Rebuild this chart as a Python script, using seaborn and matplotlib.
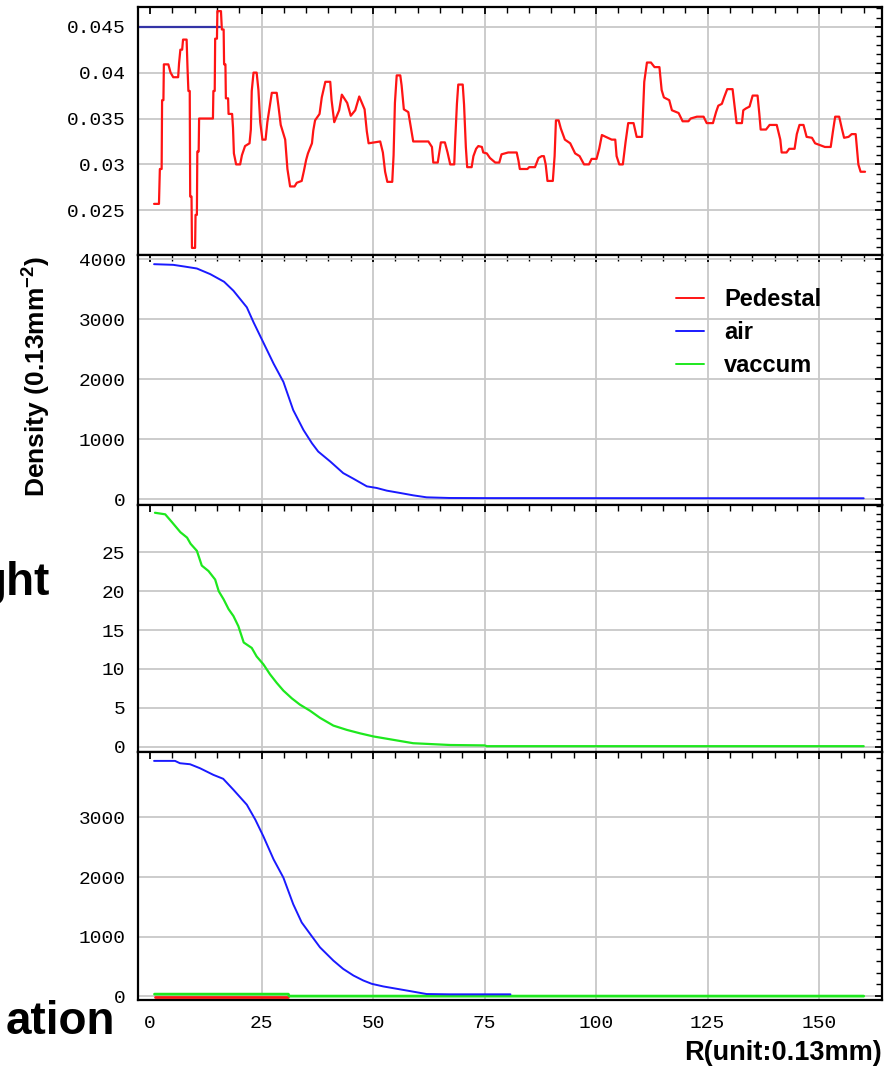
import numpy as np
import pandas as pd
import matplotlib
matplotlib.use("Agg")
import matplotlib.pyplot as plt
import seaborn as sns
from matplotlib.ticker import MultipleLocator, AutoMinorLocator
from matplotlib.lines import Line2D

sns.set_style("white")
plt.rcParams["font.family"] = ["Liberation Sans", "DejaVu Sans"]
plt.rcParams["text.color"] = "black"

# ---- data ----
# top panel: pedestal profile (red) and reference level (blue)
ped_x = [0.9, 2.0, 2.2, 2.6, 2.7, 3.0, 3.1, 4.1, 4.6, 5.2, 6.3, 6.5, 6.8, 7.2, 7.4, 8.2, 8.4, 8.6, 8.9, 9.0,
         9.3, 9.4, 10.1, 10.2, 10.5, 10.6, 10.9, 11.0, 14.1, 14.2, 14.5, 14.6, 15.0, 15.1, 15.9, 16.1, 16.5,
         16.6, 16.9, 17.0, 17.5, 17.6, 18.4, 18.6, 18.8, 19.3, 20.2, 20.6, 21.3, 22.3, 22.6, 22.8, 23.2, 23.9,
         24.3, 24.7, 25.2, 25.9, 26.3, 26.9, 27.3, 28.4, 28.8, 29.3, 30.3, 30.8, 31.4, 32.4, 32.9, 34.0, 34.5,
         35.0, 35.4, 36.3, 36.6, 37.0, 38.0, 38.5, 39.3, 40.4, 40.7, 41.3, 42.4, 43.0, 44.2, 45.0, 46.0, 46.9,
         48.1, 48.6, 49.0, 51.6, 52.2, 52.7, 53.2, 54.3, 54.6, 54.9, 55.3, 56.1, 56.4, 56.9, 57.9, 59.0, 62.4,
         63.2, 63.5, 64.5, 65.2, 66.1, 66.7, 67.3, 68.2, 68.4, 68.8, 69.1, 70.1, 70.4, 70.8, 71.1, 72.1, 72.5,
         73.1, 73.6, 74.4, 74.7, 75.5, 76.2, 77.4, 78.3, 78.8, 80.3, 82.2, 82.6, 82.9, 84.6, 85.0, 86.3, 87.1,
         87.8, 88.3, 88.7, 89.1, 90.3, 90.7, 91.0, 91.6, 92.1, 93.0, 94.2, 95.3, 96.3, 97.3, 98.4, 99.0, 100.1,
         100.7, 101.3, 102.2, 103.5, 104.3, 104.6, 105.2, 106.0, 106.3, 106.6, 107.2, 108.4, 109.1, 110.3,
         110.8, 111.4, 112.3, 113.1, 114.2, 114.7, 115.2, 116.4, 117.0, 118.5, 119.4, 120.7, 121.2, 122.6,
         124.1, 124.8, 126.2, 126.9, 127.4, 128.2, 128.7, 129.4, 130.6, 130.9, 131.5, 132.7, 133.0, 133.6,
         134.4, 135.1, 136.2, 136.6, 136.9, 138.1, 138.9, 140.5, 141.3, 141.6, 142.7, 143.3, 144.5, 145.0,
         145.6, 146.5, 147.2, 148.4, 149.1, 150.2, 151.3, 152.6, 153.1, 153.6, 154.5, 155.1, 155.6, 156.6,
         157.3, 158.2, 158.8, 159.3, 160.3]
ped_y = [0.0257, 0.0257, 0.0295, 0.0295, 0.0370, 0.0370, 0.0409, 0.0409, 0.0400, 0.0395, 0.0395, 0.0410,
         0.0425, 0.0425, 0.0436, 0.0436, 0.0405, 0.0380, 0.0380, 0.0265, 0.0265, 0.0209, 0.0209, 0.0245,
         0.0245, 0.0314, 0.0314, 0.0350, 0.0350, 0.0380, 0.0380, 0.0437, 0.0437, 0.0467, 0.0467, 0.0447,
         0.0447, 0.0409, 0.0409, 0.0372, 0.0372, 0.0355, 0.0355, 0.0340, 0.0312, 0.0300, 0.0300, 0.0310,
         0.0320, 0.0323, 0.0338, 0.0380, 0.0400, 0.0400, 0.0381, 0.0346, 0.0327, 0.0327, 0.0346, 0.0365,
         0.0378, 0.0378, 0.0363, 0.0343, 0.0327, 0.0295, 0.0276, 0.0276, 0.0280, 0.0282, 0.0293, 0.0305,
         0.0312, 0.0323, 0.0337, 0.0348, 0.0355, 0.0373, 0.0390, 0.0390, 0.0370, 0.0346, 0.0359, 0.0376,
         0.0367, 0.0353, 0.0359, 0.0374, 0.0360, 0.0336, 0.0323, 0.0325, 0.0313, 0.0292, 0.0281, 0.0281,
         0.0310, 0.0367, 0.0397, 0.0397, 0.0386, 0.0360, 0.0357, 0.0325, 0.0325, 0.0319, 0.0302, 0.0302,
         0.0324, 0.0324, 0.0313, 0.0300, 0.0300, 0.0325, 0.0366, 0.0387, 0.0387, 0.0365, 0.0319, 0.0297,
         0.0297, 0.0309, 0.0317, 0.0320, 0.0319, 0.0313, 0.0312, 0.0307, 0.0302, 0.0302, 0.0311, 0.0313,
         0.0313, 0.0304, 0.0295, 0.0295, 0.0297, 0.0297, 0.0307, 0.0309, 0.0309, 0.0300, 0.0282, 0.0282,
         0.0309, 0.0348, 0.0348, 0.0339, 0.0327, 0.0323, 0.0312, 0.0309, 0.0300, 0.0300, 0.0306, 0.0306,
         0.0317, 0.0332, 0.0330, 0.0327, 0.0327, 0.0309, 0.0300, 0.0300, 0.0312, 0.0324, 0.0345, 0.0345,
         0.0330, 0.0330, 0.0390, 0.0411, 0.0411, 0.0406, 0.0406, 0.0381, 0.0373, 0.0370, 0.0359, 0.0356,
         0.0347, 0.0347, 0.0350, 0.0352, 0.0352, 0.0345, 0.0345, 0.0357, 0.0364, 0.0366, 0.0373, 0.0382,
         0.0382, 0.0370, 0.0345, 0.0345, 0.0359, 0.0361, 0.0363, 0.0375, 0.0375, 0.0355, 0.0338, 0.0338,
         0.0343, 0.0343, 0.0327, 0.0313, 0.0313, 0.0317, 0.0317, 0.0333, 0.0343, 0.0343, 0.0330, 0.0329,
         0.0323, 0.0321, 0.0319, 0.0319, 0.0336, 0.0352, 0.0352, 0.0339, 0.0329, 0.0330, 0.0333, 0.0333,
         0.0300, 0.0292, 0.0292]
ref_x = [-3.0, 15.7]
ref_y = [0.045, 0.045]

# second panel: air
air_x = [0.9, 5.2, 7.7, 10.5, 13.5, 16.6, 18.7, 21.7, 23.2, 25.0, 27.7, 29.9, 32.1, 34.4, 36.3, 37.7,
         40.4, 43.3, 45.6, 48.6, 50.8, 53.1, 56.1, 59.0, 62.0, 67.1, 75.0, 160.0]
air_y = [3914, 3903, 3875, 3842, 3748, 3621, 3471, 3195, 2946, 2670, 2256, 1952, 1482, 1150, 929, 791,
         625, 432, 338, 211, 184, 139, 100, 61, 28, 17, 15, 12]

# third panel: vaccum
vac_x = [1.1, 3.4, 4.9, 6.8, 8.3, 9.1, 10.5, 11.6, 13.1, 14.6, 15.4, 16.5, 17.6, 18.7, 19.8, 21.0, 22.8,
         23.9, 25.4, 26.9, 28.4, 29.9, 31.8, 33.6, 35.9, 38.1, 41.1, 44.1, 47.1, 50.1, 54.6, 59.0, 67.3,
         75.0, 75.5, 160.0]
vac_y = [30.1, 29.9, 28.9, 27.6, 26.9, 26.1, 25.2, 23.3, 22.6, 21.5, 20.0, 18.95, 17.7, 16.8, 15.5, 13.4,
         12.7, 11.6, 10.6, 9.3, 8.2, 7.2, 6.2, 5.4, 4.6, 3.7, 2.7, 2.15, 1.7, 1.3, 0.86, 0.43, 0.2,
         0.15, 0.05, 0.05]

# bottom panel: all three together
all_air_x = [0.9, 5.6, 6.7, 8.97, 11.2, 14.2, 16.4, 18.7, 21.7, 23.6, 25.4, 27.7, 29.9, 32.1, 34.0, 35.9,
             38.1, 41.1, 43.3, 45.6, 47.8, 49.7, 52.3, 55.3, 58.3, 62.0, 67.1, 80.8]
all_air_y = [3945, 3945, 3906, 3889, 3822, 3711, 3645, 3461, 3211, 2961, 2683, 2295, 1989, 1545, 1239,
             1045, 822, 600, 461, 350, 267, 211, 167, 128, 89, 40, 35, 35]
all_vac_x = [1.0, 31.0, 31.2, 160.0]
all_vac_y = [38, 38, 5, 5]
all_ped_x = [1.0, 31.0]
all_ped_y = [-8, -8]

RED = "#ff1414"
BLUE = "#1a1aff"
GREEN = "#1ee81e"
NAVY = "#3434a6"

fig = plt.figure(figsize=(8.93, 10.68), dpi=100)
L = 138 / 893
W = (882 - 138) / 893


def add_panel(top, bottom):
    return fig.add_axes([L, 1 - bottom / 1068, W, (bottom - top) / 1068])


ax1 = add_panel(7, 255)
ax2 = add_panel(255, 505)
ax3 = add_panel(505, 752)
ax4 = add_panel(752, 1000)
axes = [ax1, ax2, ax3, ax4]

sns.lineplot(x=ref_x, y=ref_y, ax=ax1, color=NAVY, lw=1.6, sort=False, estimator=None)
sns.lineplot(x=ped_x, y=ped_y, ax=ax1, color=RED, lw=1.6, sort=False, estimator=None)
sns.lineplot(x=air_x, y=air_y, ax=ax2, color=BLUE, lw=1.4, sort=False, estimator=None)
sns.lineplot(x=vac_x, y=vac_y, ax=ax3, color=GREEN, lw=1.6, sort=False, estimator=None)
sns.lineplot(x=all_ped_x, y=all_ped_y, ax=ax4, color=RED, lw=2.0, sort=False, estimator=None)
sns.lineplot(x=all_vac_x, y=all_vac_y, ax=ax4, color=GREEN, lw=2.0, sort=False, estimator=None)
sns.lineplot(x=all_air_x, y=all_air_y, ax=ax4, color=BLUE, lw=1.4, sort=False, estimator=None)

ax1.set_ylim(0.02013, 0.04715)
ax1.set_yticks([0.025, 0.03, 0.035, 0.04, 0.045])
ax1.set_yticklabels(["0.025", "0.03", "0.035", "0.04", "0.045"])
ax2.set_ylim(-100, 4067)
ax2.set_yticks([0, 1000, 2000, 3000, 4000])
ax3.set_ylim(-0.7, 31.1)
ax3.set_yticks([0, 5, 10, 15, 20, 25])
ax4.set_ylim(-60, 4094)
ax4.set_yticks([0, 1000, 2000, 3000])

for ax in axes:
    ax.set_xlim(-2.7, 164.1)
    ax.set_xticks([0, 25, 50, 75, 100, 125, 150])
    ax.xaxis.set_minor_locator(MultipleLocator(5))
    ax.yaxis.set_minor_locator(AutoMinorLocator(5))
    ax.grid(True, which="major", color="#c8c8c8", lw=1.3)
    ax.get_xgridlines()[0].set_visible(False)
    ax.set_axisbelow(True)
    ax.tick_params(which="both", direction="in", top=True, right=True, color="black",
                   labelsize=14, labelfontfamily="Liberation Mono", labelcolor="black", pad=9)
    ax.tick_params(which="major", length=5, width=1.3)
    ax.tick_params(which="minor", length=4, width=1.0)
    ax.tick_params(axis="x", pad=11)
    for sp in ax.spines.values():
        sp.set_linewidth(1.6)
        sp.set_color("black")
    ax.set_xlabel("")
    ax.set_ylabel("")
    if ax is not ax4:
        ax.tick_params(labelbottom=False)

handles = [Line2D([], [], color=RED, lw=1.4), Line2D([], [], color=BLUE, lw=1.4),
           Line2D([], [], color=GREEN, lw=1.4)]
fig.legend(handles, ["Pedestal", "air", "vaccum"], loc="upper left",
           bbox_to_anchor=(676 / 893, 1 - 288 / 1068), frameon=False,
           prop={"weight": "bold", "size": 17}, handlelength=1.2, handletextpad=0.85,
           labelspacing=0.42, borderpad=0, borderaxespad=0)

plt.rcParams["mathtext.fontset"] = "custom"
plt.rcParams["mathtext.rm"] = "Liberation Sans:bold"
plt.rcParams["mathtext.default"] = "rm"
fig.text(37 / 893, 1 - 376 / 1068, "Density (0.13mm$^{-2}$)", rotation=90, ha="center", va="center",
         fontsize=19, fontweight="bold")
fig.text(882 / 893, 1 - 1053 / 1068, "R(unit:0.13mm)", ha="right", va="center",
         fontsize=19.5, fontweight="bold")

# slide text cut off at the left edge
fig.text(50 / 893, 1 - 595 / 1068, "ght", ha="right", va="baseline", fontsize=33, fontweight="bold")
fig.text(115 / 893, 1 - 1034 / 1068, "ation", ha="right", va="baseline", fontsize=33, fontweight="bold")

fig.savefig("out.png", dpi=100)
